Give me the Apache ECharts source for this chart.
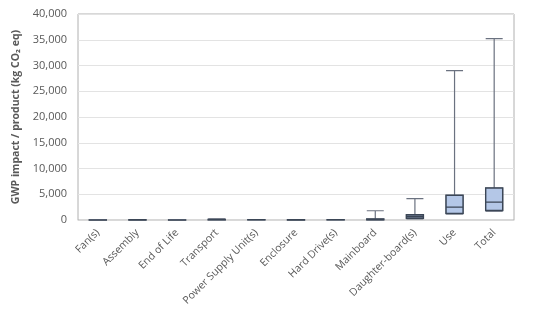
<!DOCTYPE html>
<html>
<head>
<meta charset="utf-8">
<script src="https://cdn.jsdelivr.net/npm/echarts@6/dist/echarts.min.js"></script>
<style>
  html, body { margin: 0; padding: 0; background: #ffffff; }
  #chart { width: 534px; height: 326px; }
</style>
</head>
<body>
<div id="chart"></div>
<script>
// Life-cycle stages (x axis)
const categories = [
  'Fan(s)', 'Assembly', 'End of Life', 'Transport', 'Power Supply Unit(s)',
  'Enclosure', 'Hard Drive(s)', 'Mainboard', 'Daughter-board(s)', 'Use', 'Total'
];

// Five-number summaries per stage, kg CO2 eq: [min, Q1, median, Q3, max]
const minValues    = [2,  3,  1,  10,  5,  3,  5,   20,  200, 1200, 1700];
const q1Values     = [8,  10, 5,  30,  15, 10, 15,  60,  350, 1270, 1850];
const medianValues = [15, 20, 12, 60,  30, 20, 30,  100, 680, 2500, 3480];
const q3Values     = [30, 35, 25, 110, 55, 35, 50,  180, 1015, 4800, 6200];
const maxValues    = [50, 60, 45, 200, 90, 60, 80, 1800, 4150, 29000, 35200];

// Y-axis tick settings
const yMin = 0;
const yMax = 40000;
const yStep = 5000;

const boxData = categories.map((_, i) => [
  minValues[i], q1Values[i], medianValues[i], q3Values[i], maxValues[i]
]);
// Box-only layer (whiskers collapsed onto the quartiles) drawn over gray whiskers
const boxOnlyData = categories.map((_, i) => [
  q1Values[i], q1Values[i], medianValues[i], q3Values[i], q3Values[i]
]);

const chart = echarts.init(document.getElementById('chart'));
chart.setOption({
  animation: false,
  textStyle: { fontFamily: 'Open Sans, Noto Sans, sans-serif' },
  grid: { left: 78, right: 20, top: 14, bottom: 106, show: true, borderColor: '#b0b0b0', borderWidth: 1 },
  xAxis: [{
    type: 'category',
    data: categories,
    axisLine: { show: true, lineStyle: { color: '#d9d9d9' } },
    axisTick: { show: false },
    axisLabel: {
      rotate: 45,
      interval: 0,
      color: '#595959',
      fontSize: 10.5,
      margin: 11
    },
    splitLine: { show: false }
  }, {
    // hidden twin axis so the box layer sits exactly over the whisker layer
    type: 'category',
    data: categories,
    show: false
  }],
  yAxis: {
    type: 'value',
    min: yMin,
    max: yMax,
    interval: yStep,
    name: 'GWP impact / product (kg CO₂ eq)',
    nameLocation: 'middle',
    nameGap: 56,
    nameTextStyle: { color: '#595959', fontSize: 10.5, fontWeight: 'bold' },
    axisLine: { show: false },
    axisTick: { show: false },
    axisLabel: {
      color: '#595959',
      fontSize: 11,
      margin: 11,
      formatter: v => v.toLocaleString('en-US')
    },
    splitLine: { lineStyle: { color: '#e3e3e3', width: 1 } }
  },
  series: [{
    type: 'boxplot',
    xAxisIndex: 0,
    data: boxData,
    boxWidth: [17, 17],
    itemStyle: {
      color: '#b4c7e7',
      borderColor: '#6b7280',
      borderWidth: 1.2
    },
    emphasis: { disabled: true }
  }, {
    type: 'boxplot',
    xAxisIndex: 1,
    data: boxOnlyData,
    boxWidth: [17, 17],
    itemStyle: {
      color: '#b4c7e7',
      borderColor: '#3b4656',
      borderWidth: 1.4
    },
    emphasis: { disabled: true }
  }]
});
</script>
</body>
</html>
